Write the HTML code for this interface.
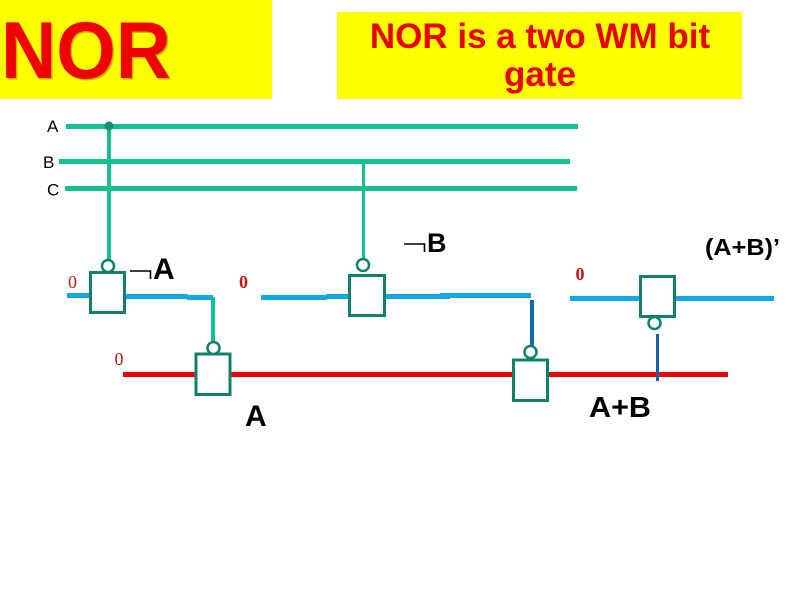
<!DOCTYPE html>
<html>
<head>
<meta charset="utf-8">
<style>
html,body{margin:0;padding:0;background:#fff;width:794px;height:595px;overflow:hidden}
svg{display:block}
text{font-family:"Liberation Sans",sans-serif}
text.s{font-family:"Liberation Serif",serif}
</style>
</head>
<body>
<svg width="794" height="595" viewBox="0 0 794 595" xmlns="http://www.w3.org/2000/svg">
<rect x="0" y="0" width="272" height="99" fill="#ffff00"/>
<rect x="337" y="12" width="405" height="87" fill="#ffff00"/>

<text x="2.500" y="79.500" font-size="81" font-weight="bold" fill="#c8b400" textLength="170" lengthAdjust="spacingAndGlyphs">NOR</text>
<text x="1" y="78" font-size="81" font-weight="bold" fill="#f00000" textLength="170" lengthAdjust="spacingAndGlyphs">NOR</text>

<g font-size="35" font-weight="bold" fill="#e60000" text-anchor="middle">
<text x="540" y="48">NOR is a two WM bit</text>
<text x="540" y="86">gate</text>
</g>

<g font-size="17" fill="#000">
<text x="47" y="132">A</text>
<text x="43" y="168">B</text>
<text x="47" y="195.500">C</text>
</g>

<!-- rails -->
<g fill="#14c090">
<rect x="66" y="124" width="512" height="5"/>
<rect x="59" y="159" width="511" height="5"/>
<rect x="65" y="186" width="512" height="5"/>
<rect x="107" y="126" width="4" height="136"/>
<rect x="362" y="163" width="3" height="98"/>
<rect x="211" y="297" width="4" height="46"/>
</g>
<circle cx="109" cy="126" r="4.500" fill="#109070"/>

<!-- blue wires -->
<g fill="#10a8e4">
<rect x="67" y="293" width="24" height="5"/>
<rect x="125" y="294" width="63" height="5"/>
<rect x="187" y="295" width="26" height="5"/>
<rect x="261" y="295" width="66" height="5"/>
<rect x="326" y="294" width="23" height="5"/>
<rect x="385" y="294" width="65" height="5"/>
<rect x="440" y="293" width="91" height="5"/>
<rect x="570" y="296" width="70" height="5"/>
<rect x="675" y="296" width="99" height="5"/>
</g>

<!-- red wire -->
<rect x="123" y="372" width="605" height="5" fill="#e80808"/>

<!-- dark blue -->
<rect x="530" y="300" width="4" height="47" fill="#1068b0"/>
<rect x="656" y="334" width="3" height="47" fill="#1860a8"/>

<!-- gates -->
<g fill="#fff" stroke="#108068" stroke-width="3">
<rect x="90.500" y="272.500" width="34" height="40"/>
<rect x="196" y="354" width="34" height="40.500"/>
<rect x="349.500" y="275.500" width="35" height="40"/>
<rect x="513.500" y="360" width="34" height="40.500"/>
<rect x="640.500" y="276.500" width="34" height="40"/>
</g>
<g fill="#fff" stroke="#108068" stroke-width="2.500">
<circle cx="108" cy="266" r="6"/>
<circle cx="213.500" cy="348" r="6"/>
<circle cx="363" cy="265" r="6"/>
<circle cx="530.500" cy="352" r="6"/>
<circle cx="654.500" cy="323" r="6"/>
</g>

<!-- zeros -->
<g font-size="18">
<text class="s" x="68" y="288" fill="#a82020">0</text>
<text class="s" x="239" y="288" fill="#d01010" font-weight="bold">0</text>
<text class="s" x="114.500" y="365" fill="#a82020">0</text>
<text class="s" x="575.500" y="280" fill="#d01010" font-weight="bold">0</text>
</g>

<!-- not signs -->
<path d="M130 271H150.500V279" fill="none" stroke="#000" stroke-width="1.600"/>
<path d="M404 244H424.500V252" fill="none" stroke="#000" stroke-width="1.600"/>

<g fill="#000" font-weight="bold">
<text x="153" y="279" font-size="30">A</text>
<text x="427" y="252" font-size="27">B</text>
<text x="245" y="426" font-size="30">A</text>
<text x="589" y="417" font-size="29" textLength="62" lengthAdjust="spacingAndGlyphs">A+B</text>
<text x="705" y="255" font-size="23" textLength="75" lengthAdjust="spacingAndGlyphs">(A+B)’</text>
</g>
</svg>
</body>
</html>
